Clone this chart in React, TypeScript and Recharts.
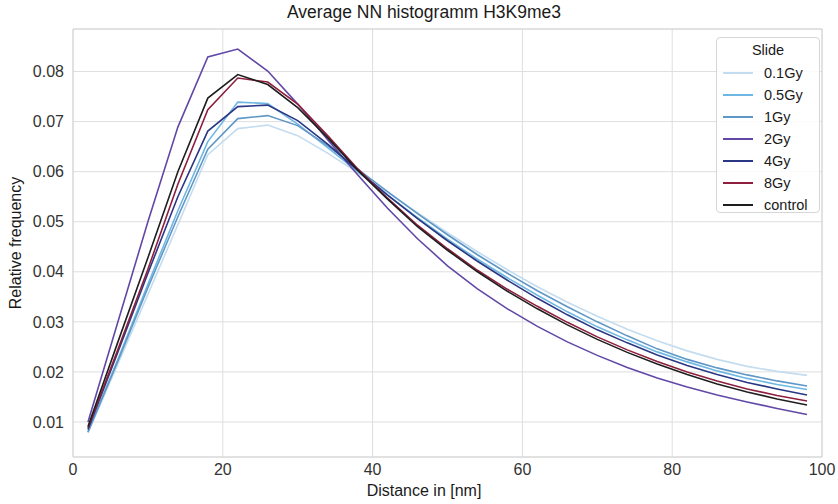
import React from 'react';
import { LineChart, Line, XAxis, YAxis, CartesianGrid, ReferenceLine } from 'recharts';

const distances = [2, 6, 10, 14, 18, 22, 26, 30, 34, 38, 42, 46, 50, 54, 58, 62, 66, 70, 74, 78, 82, 86, 90, 94, 98];

const gy01 = [0.0078, 0.0216, 0.0355, 0.0494, 0.0634, 0.0686, 0.0693, 0.0672, 0.0637, 0.0598, 0.0558, 0.0518, 0.0478, 0.0440, 0.0404, 0.0370, 0.0339, 0.0311, 0.0285, 0.0262, 0.0242, 0.0225, 0.0211, 0.0201, 0.0193];
const gy05 = [0.0080, 0.0225, 0.0375, 0.0522, 0.0660, 0.0739, 0.0736, 0.0695, 0.0648, 0.0600, 0.0553, 0.0508, 0.0465, 0.0425, 0.0388, 0.0353, 0.0320, 0.0290, 0.0264, 0.0240, 0.0220, 0.0202, 0.0187, 0.0175, 0.0165];
const gy1 = [0.0080, 0.0222, 0.0368, 0.0510, 0.0645, 0.0706, 0.0712, 0.0692, 0.0652, 0.0605, 0.0560, 0.0516, 0.0474, 0.0434, 0.0397, 0.0362, 0.0330, 0.0300, 0.0272, 0.0246, 0.0225, 0.0208, 0.0194, 0.0182, 0.0172];
const gy2 = [0.0100, 0.0300, 0.0500, 0.0689, 0.0829, 0.0845, 0.0801, 0.0735, 0.0664, 0.0594, 0.0527, 0.0466, 0.0412, 0.0366, 0.0326, 0.0291, 0.0260, 0.0233, 0.0209, 0.0188, 0.0170, 0.0154, 0.0140, 0.0127, 0.0115];
const gy4 = [0.0085, 0.0240, 0.0397, 0.0550, 0.0681, 0.0730, 0.0733, 0.0702, 0.0655, 0.0603, 0.0553, 0.0506, 0.0462, 0.0421, 0.0383, 0.0347, 0.0314, 0.0284, 0.0258, 0.0234, 0.0213, 0.0195, 0.0179, 0.0166, 0.0154];
const gy8 = [0.0088, 0.0245, 0.0405, 0.0575, 0.0724, 0.0787, 0.0779, 0.0735, 0.0672, 0.0606, 0.0547, 0.0493, 0.0446, 0.0403, 0.0365, 0.0331, 0.0299, 0.0270, 0.0244, 0.0221, 0.0200, 0.0182, 0.0166, 0.0153, 0.0142];
const control = [0.0091, 0.0260, 0.0428, 0.0600, 0.0747, 0.0794, 0.0774, 0.0728, 0.0668, 0.0603, 0.0545, 0.0490, 0.0443, 0.0400, 0.0361, 0.0326, 0.0294, 0.0265, 0.0239, 0.0216, 0.0195, 0.0176, 0.0160, 0.0146, 0.0134];

const xTicks = [0, 20, 40, 60, 80, 100];
const yTicks = [0.01, 0.02, 0.03, 0.04, 0.05, 0.06, 0.07, 0.08];

const series = [
  { key: 'gy01', name: '0.1Gy', values: gy01, color: '#c3dcef' },
  { key: 'gy05', name: '0.5Gy', values: gy05, color: '#6fb7e3' },
  { key: 'gy1', name: '1Gy', values: gy1, color: '#5f98c6' },
  { key: 'gy2', name: '2Gy', values: gy2, color: '#6248a6' },
  { key: 'gy4', name: '4Gy', values: gy4, color: '#2a3784' },
  { key: 'gy8', name: '8Gy', values: gy8, color: '#8e1f3e' },
  { key: 'control', name: 'control', values: control, color: '#1e1e1e' },
];

const data = distances.map((d, i) => {
  const row: Record<string, number> = { d };
  series.forEach((s) => {
    row[s.key] = s.values[i];
  });
  return row;
});

const FONT = '"Liberation Sans", Arial, sans-serif';
const GRID = '#dedede';

export default function App() {
  return (
    <div style={{ position: 'absolute', left: 0, top: 0, width: 838, height: 504, background: '#fff', fontFamily: FONT }}>
      <LineChart width={838} height={504} data={data} margin={{ top: 29, right: 16, bottom: 0, left: 0 }}>
        <CartesianGrid stroke={GRID} strokeWidth={1} vertical horizontal />
        <XAxis
          type="number"
          dataKey="d"
          domain={[0, 100]}
          ticks={xTicks}
          interval={0}
          height={47}
          tickLine={false}
          tickSize={0}
          tickMargin={7}
          axisLine={{ stroke: '#d4d4d4' }}
          tick={{ fill: '#333', fontSize: 16, fontFamily: FONT }}
        />
        <YAxis
          type="number"
          domain={[0.003, 0.0885]}
          allowDataOverflow
          ticks={yTicks}
          interval={0}
          width={73}
          tickLine={false}
          tickSize={0}
          tickMargin={9}
          axisLine={{ stroke: '#d4d4d4' }}
          tickFormatter={(v: number) => v.toFixed(2)}
          tick={{ fill: '#333', fontSize: 16, fontFamily: FONT }}
        />
        <ReferenceLine y={0.0885} stroke="#d4d4d4" ifOverflow="extendDomain" />
        <ReferenceLine x={100} stroke="#d4d4d4" ifOverflow="extendDomain" />
        {series.map((s) => (
          <Line
            key={s.key}
            type="linear"
            dataKey={s.key}
            name={s.name}
            stroke={s.color}
            strokeWidth={1.6}
            dot={false}
            activeDot={false}
            isAnimationActive={false}
          />
        ))}
      </LineChart>
      <div style={{ position: 'absolute', left: 0, width: 848, top: 2, textAlign: 'center', fontSize: 17.5, color: '#1a1a1a', whiteSpace: 'nowrap' }}>
        Average NN histogramm H3K9me3
      </div>
      <div style={{ position: 'absolute', left: 0, width: 848, top: 482, textAlign: 'center', fontSize: 16, color: '#1a1a1a', whiteSpace: 'nowrap' }}>
        Distance in [nm]
      </div>
      <div
        style={{
          position: 'absolute',
          left: 16,
          top: 243,
          transform: 'translate(-50%, -50%) rotate(-90deg)',
          fontSize: 16,
          color: '#1a1a1a',
          whiteSpace: 'nowrap',
        }}
      >
        Relative frequency
      </div>
      <div
        style={{
          position: 'absolute',
          left: 716,
          top: 37,
          width: 104,
          height: 176,
          border: '1px solid #d6d6d6',
          borderRadius: 4,
          background: 'rgba(255,255,255,0.85)',
          boxSizing: 'border-box',
          fontSize: 14.5,
          color: '#1a1a1a',
        }}
      >
        <div style={{ textAlign: 'center', marginTop: 2, height: 22, lineHeight: '20px' }}>Slide</div>
        {series.map((s) => (
          <div key={s.key} style={{ display: 'flex', alignItems: 'center', height: 22 }}>
            <div style={{ width: 30, height: 2, background: s.color, marginLeft: 6, marginRight: 11 }} />
            <span style={{ lineHeight: '22px' }}>{s.name}</span>
          </div>
        ))}
      </div>
    </div>
  );
}
